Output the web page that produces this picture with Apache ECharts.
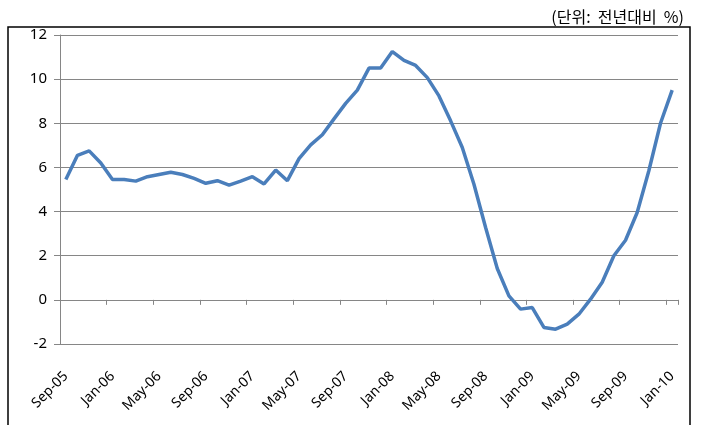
<!DOCTYPE html>
<html>
<head>
<meta charset="utf-8">
<script src="https://cdn.jsdelivr.net/npm/echarts@6/dist/echarts.min.js"></script>
<style>
  html, body { margin: 0; padding: 0; background: #fff; }
  #chart { width: 704px; height: 425px; }
</style>
</head>
<body>
<div id="chart"></div>
<script>
// 월별 범주 (Sep-05 ~ Jan-10)
var months = ["Sep-05","Oct-05","Nov-05","Dec-05","Jan-06","Feb-06","Mar-06","Apr-06","May-06","Jun-06","Jul-06","Aug-06",
  "Sep-06","Oct-06","Nov-06","Dec-06","Jan-07","Feb-07","Mar-07","Apr-07","May-07","Jun-07","Jul-07","Aug-07",
  "Sep-07","Oct-07","Nov-07","Dec-07","Jan-08","Feb-08","Mar-08","Apr-08","May-08","Jun-08","Jul-08","Aug-08",
  "Sep-08","Oct-08","Nov-08","Dec-08","Jan-09","Feb-09","Mar-09","Apr-09","May-09","Jun-09","Jul-09","Aug-09",
  "Sep-09","Oct-09","Nov-09","Dec-09","Jan-10"];
// 전년대비 증감률 (%)
var values = [5.45, 6.55, 6.75, 6.2, 5.45, 5.45, 5.38, 5.58, 5.68, 5.78, 5.68, 5.5,
  5.28, 5.4, 5.2, 5.38, 5.58, 5.25, 5.88, 5.4, 6.4, 7.02, 7.48, 8.2,
  8.9, 9.5, 10.5, 10.5, 11.25, 10.85, 10.62, 10.07, 9.24, 8.11, 6.9, 5.24,
  3.28, 1.42, 0.18, -0.42, -0.35, -1.25, -1.33, -1.1, -0.65, 0.03, 0.8, 2.0,
  2.7, 3.96, 5.85, 8.0, 9.5];
var yTicks = { min: -2, max: 12, step: 2 };
var unitLabel = "(단위:  전년대비  %)";

var chart = echarts.init(document.getElementById("chart"));
chart.setOption({
  animation: false,
  title: {
    text: unitLabel,
    right: 15,
    top: 4,
    textStyle: { fontFamily: "Noto Sans CJK KR", fontSize: 16, fontWeight: "normal", color: "#000" }
  },
  graphic: [{
    type: "rect",
    shape: { x: 8, y: 27, width: 682, height: 420 },
    style: { fill: null, stroke: "#000", lineWidth: 1.5 },
    silent: true
  }],
  grid: { left: 60, right: 26, top: 35, bottom: 81 },
  xAxis: [{
    type: "category",
    data: months,
    position: "bottom",
    axisLine: { show: false, onZero: false },
    axisTick: { show: false },
    axisLabel: {
      interval: 3,
      rotate: 45,
      margin: 30,
      fontFamily: "Noto Sans",
      fontSize: 14,
      color: "#000"
    }
  }, {
    type: "category",
    data: months,
    position: "top",
    axisLine: { onZero: true, lineStyle: { color: "#868686", width: 1 } },
    axisTick: { show: true, interval: 3, inside: true, length: 5, lineStyle: { color: "#868686" } },
    axisLabel: { show: false }
  }],
  yAxis: {
    type: "value",
    min: yTicks.min,
    max: yTicks.max,
    interval: yTicks.step,
    axisLine: { show: true, lineStyle: { color: "#868686" } },
    axisTick: { show: true, length: 6, lineStyle: { color: "#868686" } },
    axisLabel: { margin: 13, fontFamily: "Noto Sans", fontSize: 15, color: "#000" },
    splitLine: { lineStyle: { color: "#868686", width: 1 } }
  },
  series: [{
    type: "line",
    data: values,
    showSymbol: false,
    smooth: false,
    lineStyle: { color: "#4A7EBB", width: 3.5 },
    itemStyle: { color: "#4A7EBB" }
  }]
});
</script>
</body>
</html>
